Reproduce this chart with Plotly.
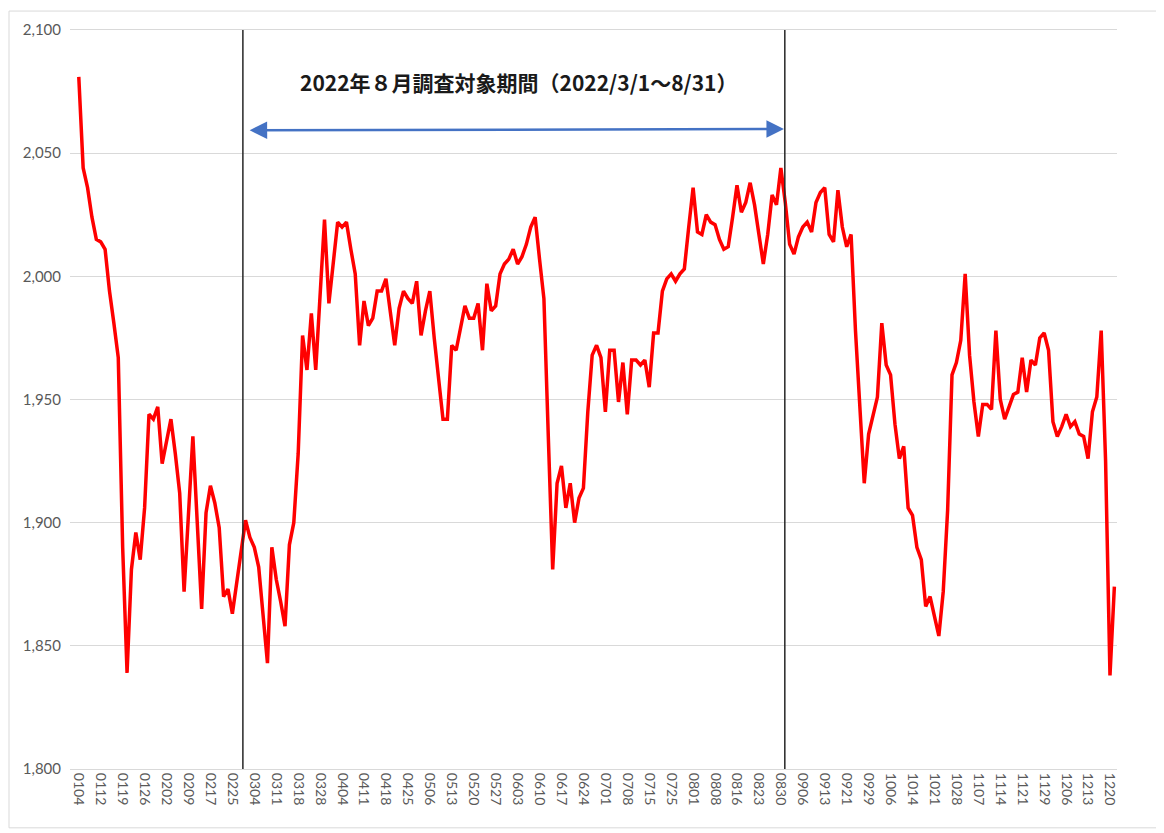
import pandas as pd
import plotly.graph_objects as go

# Japanese market holidays in 2022 (non-trading days)
HOLIDAYS = ["2022-01-10", "2022-02-11", "2022-02-23", "2022-03-21", "2022-04-29",
            "2022-05-03", "2022-05-04", "2022-05-05", "2022-07-18", "2022-08-11",
            "2022-09-19", "2022-09-23", "2022-10-10", "2022-11-03", "2022-11-23"]

VALUES = [
    2081, 2044, 2036, 2024, 2015, 2014, 2011, 1994, 1981, 1967,   # 0104-
    1890, 1839, 1881, 1896, 1885, 1906, 1944, 1942, 1947, 1924,
    1933, 1942, 1928, 1912, 1872, 1903, 1935, 1900, 1865, 1904,
    1915, 1908, 1898, 1870, 1873, 1863, 1875, 1887, 1901, 1894,
    1890, 1882, 1863, 1843, 1890, 1877, 1868, 1858, 1891, 1900,
    1928, 1976, 1962, 1985, 1962, 1992, 2023, 1989, 2005, 2022,
    2020, 2022, 2011, 2001, 1972, 1990, 1980, 1983, 1994, 1994,
    1999, 1985, 1972, 1987, 1994, 1991, 1989, 1998, 1976, 1986,
    1994, 1975, 1958, 1942, 1942, 1972, 1970, 1980, 1988, 1983,
    1983, 1989, 1970, 1997, 1986, 1988, 2001, 2005, 2007, 2011,
    2005, 2008, 2013, 2020, 2024, 2007, 1991, 1935, 1881, 1916,
    1923, 1906, 1916, 1900, 1910, 1914, 1945, 1968, 1972, 1967,
    1945, 1970, 1970, 1949, 1965, 1944, 1966, 1966, 1964, 1966,
    1955, 1977, 1977, 1994, 1999, 2001, 1998, 2001, 2003, 2020,
    2036, 2018, 2017, 2025, 2022, 2021, 2015, 2011, 2012, 2024,
    2037, 2026, 2030, 2038, 2029, 2017, 2005, 2017, 2033, 2029,
    2044, 2030, 2013, 2009, 2016, 2020, 2022, 2018, 2030, 2034,
    2036, 2017, 2014, 2035, 2020, 2012, 2017, 1978, 1944, 1916,
    1936, 1943, 1951, 1981, 1964, 1960, 1940, 1926, 1931, 1906,
    1903, 1890, 1885, 1866, 1870, 1862, 1854, 1872, 1905, 1960,
    1965, 1974, 2001, 1968, 1949, 1935, 1948, 1948, 1946, 1978,
    1950, 1942, 1947, 1952, 1953, 1967, 1953, 1966, 1964, 1975,
    1977, 1970, 1941, 1935, 1939, 1944, 1939, 1941, 1936, 1935,
    1926, 1945, 1951, 1978, 1925, 1838, 1874,
]

TICK_LABELS = ["0104", "0112", "0119", "0126", "0202", "0209", "0217", "0225",
               "0304", "0311", "0318", "0328", "0404", "0411", "0418", "0425",
               "0506", "0513", "0520", "0527", "0603", "0610", "0617", "0624",
               "0701", "0708", "0715", "0725", "0801", "0808", "0816", "0823",
               "0830", "0906", "0913", "0921", "0929", "1006", "1014", "1021",
               "1028", "1107", "1114", "1121", "1129", "1206", "1213", "1220"]

TITLE_TEXT = "2022年８月調査対象期間（2022/3/1～8/31）"
PERIOD_START = "0301"
PERIOD_END = "0831"

dates = pd.bdate_range(start="2022-01-04", periods=len(VALUES), freq="C", holidays=HOLIDAYS)
DAYS = [d.strftime("%m%d") for d in dates]

i_start = DAYS.index(PERIOD_START) + 0.4
i_end = DAYS.index(PERIOD_END) - 0.1

W, H = 1156, 825
ML, MR, MT, MB = 62, 47, 20, 64

fig = go.Figure()
fig.add_trace(go.Scatter(x=DAYS, y=VALUES, mode="lines",
                         line=dict(color="#FF0000", width=3.5), hoverinfo="x+y"))

grid = "#d9d9d9"
tickfont = dict(family="Lato, Open Sans, sans-serif", size=14, color="#595959")

fig.update_layout(
    width=W, height=H,
    margin=dict(l=ML, r=MR, t=MT, b=MB),
    paper_bgcolor="white", plot_bgcolor="white",
    showlegend=False,
    xaxis=dict(type="category", range=[-2.0, len(VALUES) - 0.4],
               tickmode="array", tickvals=TICK_LABELS, ticktext=TICK_LABELS,
               tickangle=90, tickfont=tickfont, showgrid=False,
               showline=True, mirror=True, linecolor=grid, linewidth=1,
               ticks="", zeroline=False),
    yaxis=dict(range=[1800, 2100], dtick=50, tickformat=",", tickfont=dict(
        family="Lato, Open Sans, sans-serif", size=15, color="#595959"),
               showgrid=True, gridcolor=grid, gridwidth=1, zeroline=False,
               showline=False, ticks="", ticklabelstandoff=8),
)

# vertical period markers
for xi in (i_start, i_end):
    fig.add_shape(type="line", xref="x", yref="y", x0=xi, x1=xi, y0=1800, y1=2100,
                  line=dict(color="#262626", width=1.5), layer="above")

# double-headed arrow
fig.add_annotation(x=i_end - 0.2, y=2059.8, ax=i_start + 1.2, ay=2059.3,
                   xref="x", yref="y", axref="x", ayref="y",
                   showarrow=True, arrowhead=2, startarrowhead=2, arrowside="end+start",
                   arrowsize=1.4, startarrowsize=1.4, arrowwidth=2.5, arrowcolor="#4472C4",
                   text="")

fig.add_annotation(x=(i_start + i_end) / 2 + 1.0, y=2079, xref="x", yref="y",
                   text=TITLE_TEXT, showarrow=False,
                   font=dict(family="Noto Sans CJK JP", size=21, color="#1a1a1a", weight="bold"))

# outer chart frame (page pixels -> paper coords; page is offset 8px by body margin)
PW, PH = W - ML - MR, H - MT - MB

def px2paper_x(px):
    return (px - 8 - ML) / PW

def px2paper_y(py):
    return (H - MB - (py - 8)) / PH

fig.add_shape(type="rect", xref="paper", yref="paper",
              x0=px2paper_x(9), x1=px2paper_x(1159), y0=px2paper_y(828), y1=px2paper_y(9),
              line=dict(color="#d9d9d9", width=1), layer="below")

fig.write_html("out.html")
